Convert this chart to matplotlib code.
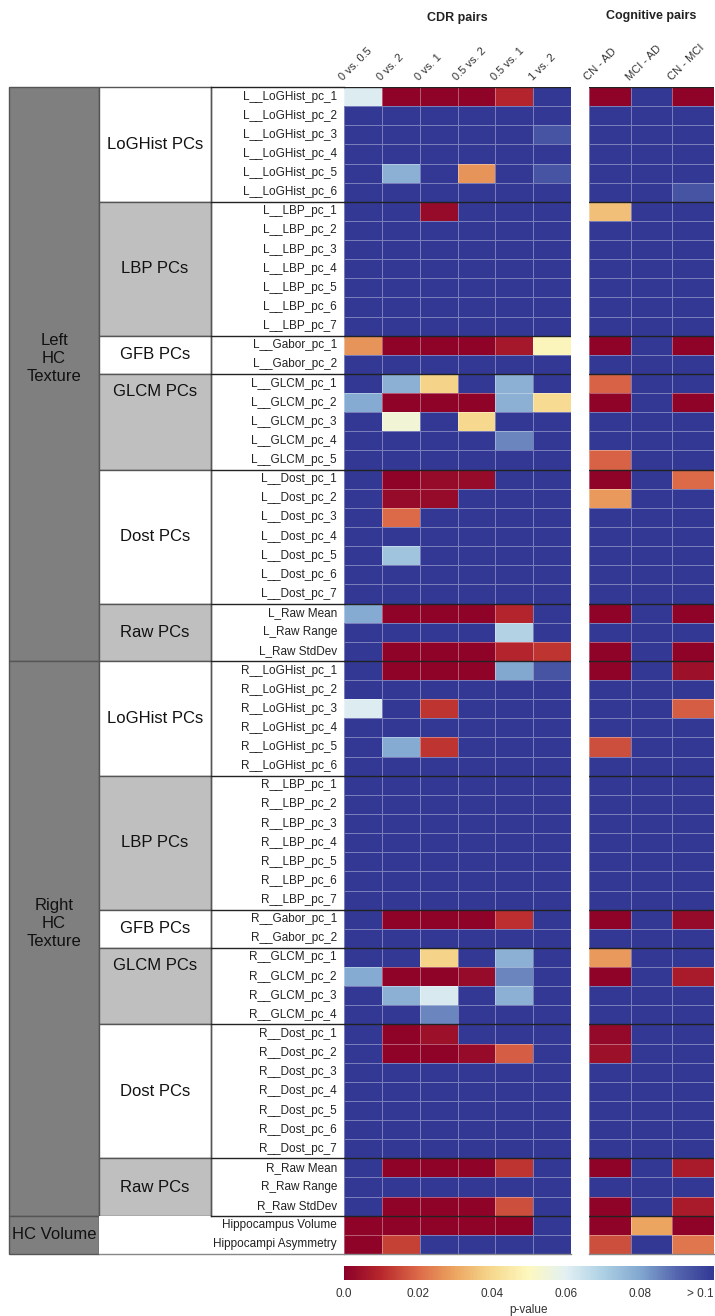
import numpy as np
import matplotlib
matplotlib.use("Agg")
import matplotlib.pyplot as plt
from matplotlib.colors import LinearSegmentedColormap
from matplotlib.patches import Rectangle
import matplotlib.transforms as mtransforms

plt.rcParams['font.family'] = ['Liberation Sans', 'DejaVu Sans']

B = 1.0  # p-value > 0.1

cdr_pairs = ['0 vs. 0.5', '0 vs. 2', '0 vs. 1', '0.5 vs. 2', '0.5 vs. 1', '1 vs. 2']
cog_pairs = ['CN - AD', 'MCI - AD', 'CN - MCI']

group_names = ['Left\nHC\nTexture', 'Right\nHC\nTexture', 'HC Volume']

# ---- Left HC texture ----
L_loghist_labels = ['L__LoGHist_pc_%d' % i for i in range(1, 7)]
L_loghist = [
    [0.061, 0.001, 0.001, 0.001, 0.009, B, 0.001, B, 0.001],
    [B, B, B, B, B, B, B, B, B],
    [B, B, B, B, B, 0.094, B, B, B],
    [B, B, B, B, B, B, B, B, B],
    [B, 0.078, B, 0.027, B, 0.094, B, B, B],
    [B, B, B, B, B, B, B, B, 0.094],
]
L_lbp_labels = ['L__LBP_pc_%d' % i for i in range(1, 8)]
L_lbp = [
    [B, B, 0.003, B, B, B, 0.035, B, B],
    [B, B, B, B, B, B, B, B, B],
    [B, B, B, B, B, B, B, B, B],
    [B, B, B, B, B, B, B, B, B],
    [B, B, B, B, B, B, B, B, B],
    [B, B, B, B, B, B, B, B, B],
    [B, B, B, B, B, B, B, B, B],
]
L_gabor_labels = ['L__Gabor_pc_1', 'L__Gabor_pc_2']
L_gabor = [
    [0.027, 0.001, 0.001, 0.001, 0.006, 0.049, 0.001, B, 0.001],
    [B, B, B, B, B, B, B, B, B],
]
L_glcm_labels = ['L__GLCM_pc_%d' % i for i in range(1, 6)]
L_glcm = [
    [B, 0.078, 0.039, B, 0.078, B, 0.019, B, B],
    [0.079, 0.001, 0.001, 0.001, 0.078, 0.041, 0.001, B, 0.001],
    [B, 0.054, B, 0.040, B, B, B, B, B],
    [B, B, B, B, 0.085, B, B, B, B],
    [B, B, B, B, B, B, 0.019, B, B],
]
L_dost_labels = ['L__Dost_pc_%d' % i for i in range(1, 8)]
L_dost = [
    [B, 0.001, 0.003, 0.003, B, B, 0.001, B, 0.020],
    [B, 0.003, 0.003, B, B, B, 0.028, B, B],
    [B, 0.020, B, B, B, B, B, B, B],
    [B, B, B, B, B, B, B, B, B],
    [B, 0.073, B, B, B, B, B, B, B],
    [B, B, B, B, B, B, B, B, B],
    [B, B, B, B, B, B, B, B, B],
]
L_raw_labels = ['L_Raw Mean', 'L_Raw Range', 'L_Raw StdDev']
L_raw = [
    [0.079, 0.001, 0.001, 0.001, 0.009, B, 0.001, B, 0.001],
    [B, B, B, B, 0.069, B, B, B, B],
    [B, 0.001, 0.001, 0.001, 0.009, 0.012, 0.001, B, 0.001],
]

# ---- Right HC texture ----
R_loghist_labels = ['R__LoGHist_pc_%d' % i for i in range(1, 7)]
R_loghist = [
    [B, 0.001, 0.001, 0.001, 0.080, 0.094, 0.001, B, 0.004],
    [B, B, B, B, B, B, B, B, B],
    [0.061, B, 0.012, B, B, B, B, B, 0.018],
    [B, B, B, B, B, B, B, B, B],
    [B, 0.079, 0.012, B, B, B, 0.016, B, B],
    [B, B, B, B, B, B, B, B, B],
]
R_lbp_labels = ['R__LBP_pc_%d' % i for i in range(1, 8)]
R_lbp = [
    [B, B, B, B, B, B, B, B, B],
    [B, B, B, B, B, B, B, B, B],
    [B, B, B, B, B, B, B, B, B],
    [B, B, B, B, B, B, B, B, B],
    [B, B, B, B, B, B, B, B, B],
    [B, B, B, B, B, B, B, B, B],
    [B, B, B, B, B, B, B, B, B],
]
R_gabor_labels = ['R__Gabor_pc_1', 'R__Gabor_pc_2']
R_gabor = [
    [B, 0.001, 0.001, 0.001, 0.011, B, 0.001, B, 0.003],
    [B, B, B, B, B, B, B, B, B],
]
R_glcm_labels = ['R__GLCM_pc_%d' % i for i in range(1, 5)]
R_glcm = [
    [B, B, 0.039, B, 0.078, B, 0.028, B, B],
    [0.079, 0.001, 0.001, 0.003, 0.085, B, 0.001, B, 0.007],
    [B, 0.078, 0.062, B, 0.078, B, B, B, B],
    [B, B, 0.085, B, B, B, B, B, B],
]
R_dost_labels = ['R__Dost_pc_%d' % i for i in range(1, 8)]
R_dost = [
    [B, 0.001, 0.004, B, B, B, 0.002, B, B],
    [B, 0.001, 0.001, 0.003, 0.018, B, 0.004, B, B],
    [B, B, B, B, B, B, B, B, B],
    [B, B, B, B, B, B, B, B, B],
    [B, B, B, B, B, B, B, B, B],
    [B, B, B, B, B, B, B, B, B],
    [B, B, B, B, B, B, B, B, B],
]
R_raw_labels = ['R_Raw Mean', 'R_Raw Range', 'R_Raw StdDev']
R_raw = [
    [B, 0.001, 0.001, 0.001, 0.012, B, 0.001, B, 0.007],
    [B, B, B, B, B, B, B, B, B],
    [B, 0.001, 0.001, 0.001, 0.016, B, 0.001, B, 0.007],
]

# ---- HC volume ----
vol_labels = ['Hippocampus Volume', 'Hippocampi Asymmetry']
vol = [
    [0.001, 0.001, 0.001, 0.001, 0.001, B, 0.001, 0.030, 0.001],
    [0.001, 0.014, B, B, B, B, 0.016, B, 0.022],
]

subgroups = [
    # (group index, subgroup name, labels, values)
    (0, 'LoGHist PCs', L_loghist_labels, L_loghist),
    (0, 'LBP PCs', L_lbp_labels, L_lbp),
    (0, 'GFB PCs', L_gabor_labels, L_gabor),
    (0, 'GLCM PCs', L_glcm_labels, L_glcm),
    (0, 'Dost PCs', L_dost_labels, L_dost),
    (0, 'Raw PCs', L_raw_labels, L_raw),
    (1, 'LoGHist PCs', R_loghist_labels, R_loghist),
    (1, 'LBP PCs', R_lbp_labels, R_lbp),
    (1, 'GFB PCs', R_gabor_labels, R_gabor),
    (1, 'GLCM PCs', R_glcm_labels, R_glcm),
    (1, 'Dost PCs', R_dost_labels, R_dost),
    (1, 'Raw PCs', R_raw_labels, R_raw),
    (2, '', vol_labels, vol),
]

row_labels = []
values = []
for g, name, labs, vals in subgroups:
    row_labels += labs
    values += vals
values = np.array(values, dtype=float)
nrows = values.shape[0]
ncdr = len(cdr_pairs)

# ---------------- colormap ----------------
cmap = LinearSegmentedColormap.from_list('pv', [
    '#8b0029', '#b8282c', '#dc6a48', '#eca662', '#f6d98e', '#fdf8c0',
    '#e2f0f3', '#aed0e4', '#82a8d0', '#5566ae', '#323894'])
cmap.set_over('#323894')

W, H = 715, 1316
fig = plt.figure(figsize=(W / 100, H / 100), dpi=100)

top_px, bot_px = 87, 1254
bottom = 1 - bot_px / H
height = (bot_px - top_px) / H

def fx(px):
    return px / W

ax1 = fig.add_axes([fx(344), bottom, fx(571 - 344), height])
ax2 = fig.add_axes([fx(589), bottom, fx(714 - 589), height])
axl = fig.add_axes([fx(9), bottom, fx(344 - 9), height])

grid_ec = (1, 1, 1, 0.35)
m1 = ax1.pcolormesh(values[:, :ncdr], cmap=cmap, vmin=0, vmax=0.1,
                    edgecolors=grid_ec, linewidth=0.6)
m2 = ax2.pcolormesh(values[:, ncdr:], cmap=cmap, vmin=0, vmax=0.1,
                    edgecolors=grid_ec, linewidth=0.6)
for ax, labs in ((ax1, cdr_pairs), (ax2, cog_pairs)):
    ax.set_ylim(nrows, 0)
    ax.set_xlim(0, len(labs))
    ax.set_xticks([])
    ax.set_yticks([])
    for s in ax.spines.values():
        s.set_visible(False)
    trans = mtransforms.blended_transform_factory(ax.transData, ax.transAxes)
    for i, lab in enumerate(labs):
        ax.text(i + 0.02, 1.004, lab, rotation=45, rotation_mode='anchor',
                ha='left', va='bottom', fontsize=8, color='#333333',
                transform=trans)

fig.text(fx(457), 1 - 18 / H, 'CDR pairs', ha='center', va='center',
         fontsize=9, fontweight='bold', color='#222222')
fig.text(fx(651), 1 - 16 / H, 'Cognitive pairs', ha='center', va='center',
         fontsize=9, fontweight='bold', color='#222222')

# ---------------- label area ----------------
axl.set_xlim(9, 344)
axl.set_ylim(nrows, 0)
axl.axis('off')

x_g0, x_g1, x_s1 = 9, 99, 211
edge = '#555555'
light = '#bfbfbf'
dark = '#7f7f7f'

# group boxes
start = 0
group_bounds = {}
for g, name, labs, vals in subgroups:
    group_bounds.setdefault(g, [start, start])
    group_bounds[g][1] = start + len(labs)
    start += len(labs)

for g, (a, b) in group_bounds.items():
    axl.add_patch(Rectangle((x_g0, a), x_g1 - x_g0, b - a, facecolor=dark,
                            edgecolor=edge, linewidth=1.0, clip_on=False))

# subgroup boxes
start = 0
shade_idx = 0
for g, name, labs, vals in subgroups:
    n = len(labs)
    if g == 2:
        axl.add_patch(Rectangle((x_g1, start), 344 - x_g1, n, facecolor='white',
                                edgecolor='none', clip_on=False))
        axl.plot([x_g1, 344], [start + n, start + n], color='#888888', lw=1.0,
                 clip_on=False)
    else:
        fc = 'white' if shade_idx % 2 == 0 else light
        axl.add_patch(Rectangle((x_g1, start), x_s1 - x_g1, n, facecolor=fc,
                                edgecolor=edge, linewidth=1.0, clip_on=False))
        ycen = start + n / 2
        if name == 'GLCM PCs':
            ycen = start + 0.9
        axl.text((x_g1 + x_s1) / 2, ycen, name, ha='center', va='center',
                 fontsize=12, color='#111111')
        shade_idx += 1
    # boundary lines across label and heatmap
    axl.plot([x_s1, 344], [start, start], color='#222222', lw=1.0,
             clip_on=False, zorder=5)
    for ax in (ax1, ax2):
        ax.axhline(start, color='#222222', lw=1.0, zorder=5)
    start += n

axl.plot([x_s1, x_s1], [0, group_bounds[1][1]], color=edge, lw=1.0,
         clip_on=False)
for ax in (ax1, ax2):
    ax.axhline(nrows, color='#888888', lw=1.0, zorder=5, clip_on=False)

# group labels
for g, (a, b) in group_bounds.items():
    yc = (a + b) / 2 if g == 2 else (a + b) / 2 - 0.8
    axl.text((x_g0 + x_g1) / 2, yc, group_names[g], ha='center', va='center',
             fontsize=12, color='#111111', linespacing=1.25)

# row labels
for i, lab in enumerate(row_labels):
    axl.text(337, i + 0.5, lab, ha='right', va='center', fontsize=8.5,
             color='#222222')

# ---------------- colorbar ----------------
cax = fig.add_axes([fx(344), 1 - 1280 / H, fx(714 - 344), 14 / H])
cb = fig.colorbar(m1, cax=cax, orientation='horizontal',
                  ticks=[0, 0.02, 0.04, 0.06, 0.08, 0.1])
cb.ax.set_xticklabels(['0.0', '0.02', '0.04', '0.06', '0.08', '> 0.1'],
                      fontsize=8.5, color='#333333')
cb.ax.get_xticklabels()[-1].set_horizontalalignment('right')
cb.ax.tick_params(length=0, pad=6)
cb.outline.set_visible(False)
cb.set_label('p-value', fontsize=8.5, color='#333333', labelpad=3)

fig.savefig('out.png', dpi=100)
